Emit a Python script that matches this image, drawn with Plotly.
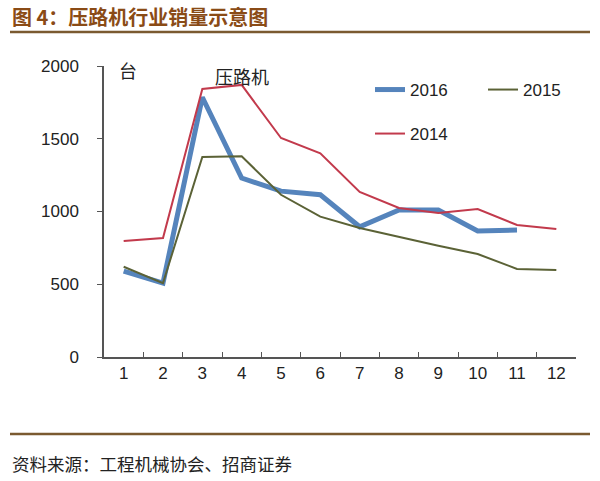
import plotly.graph_objects as go

months = ["1", "2", "3", "4", "5", "6", "7", "8", "9", "10", "11", "12"]
s2016 = [590, 508, 1785, 1230, 1140, 1115, 895, 1010, 1010, 866, 873]
s2015 = [620, 508, 1375, 1380, 1115, 965, 887, 825, 765, 708, 605, 598]
s2014 = [797, 818, 1842, 1870, 1505, 1400, 1134, 1024, 990, 1017, 907, 880]
yticks = [0, 500, 1000, 1500, 2000]

fig = go.Figure()
fig.add_trace(go.Scatter(x=months[:len(s2016)], y=s2016, mode="lines", name="2016",
                         line=dict(color="#5584BC", width=5), legend="legend"))
fig.add_trace(go.Scatter(x=months, y=s2015, mode="lines", name="2015",
                         line=dict(color="#5B6236", width=2), legend="legend2"))
fig.add_trace(go.Scatter(x=months, y=s2014, mode="lines", name="2014",
                         line=dict(color="#C23A4C", width=2), legend="legend3"))

axis_color = "#555555"
fig.update_xaxes(type="category", categoryorder="array", categoryarray=months,
                 range=[-0.5, 11.5], tickson="boundaries", ticks="inside", ticklen=5,
                 tickcolor=axis_color, showline=True, linecolor=axis_color, linewidth=1.5,
                 showgrid=False, zeroline=False,
                 tickfont=dict(family="Arial, Liberation Sans", size=17, color="#222222"))
fig.update_yaxes(range=[0, 2000], tickvals=yticks, ticks="outside", ticklen=5,
                 tickcolor=axis_color, showline=True, linecolor=axis_color, linewidth=1.5,
                 showgrid=False, zeroline=False, ticklabelstandoff=15,
                 tickfont=dict(family="Arial, Liberation Sans", size=17, color="#222222"))

leg_font = dict(family="Arial, Liberation Sans", size=17, color="#222222")
common = dict(bgcolor="rgba(0,0,0,0)", font=leg_font, xanchor="left", yanchor="middle",
              itemwidth=30, tracegroupgap=0)
fig.update_layout(
    width=600, height=481,
    margin=dict(l=104, r=24, t=66, b=124),
    paper_bgcolor="white", plot_bgcolor="white",
    showlegend=True,
    legend=dict(x=(370 - 104) / 472, y=(357 - 90) / 291, **common),
    legend2=dict(x=(483 - 104) / 472, y=(357 - 90) / 291, **common),
    legend3=dict(x=(370 - 104) / 472, y=(357 - 134) / 291, **common),
)

title_color = "#8A4B16"
rule_color = "#7A5A30"
fig.add_annotation(text="图 4：压路机行业销量示意图", xref="paper", yref="paper",
                   x=-94 / 472, y=(357 - 17) / 291, xanchor="left", yanchor="middle",
                   showarrow=False,
                   font=dict(family="Noto Sans CJK SC", size=20, color=title_color, weight="bold"))
fig.add_annotation(text="资料来源：工程机械协会、招商证券", xref="paper", yref="paper",
                   x=-94 / 472, y=(357 - 463) / 291, xanchor="left", yanchor="middle",
                   showarrow=False,
                   font=dict(family="Noto Sans CJK SC", size=17.5, color="#222222"))
fig.add_annotation(text="台", xref="paper", yref="paper",
                   x=(128 - 104) / 472, y=(357 - 70) / 291, xanchor="center", yanchor="middle",
                   showarrow=False, font=dict(family="Noto Sans CJK SC", size=18, color="#222222"))
fig.add_annotation(text="压路机", xref="paper", yref="paper",
                   x=(242 - 104) / 472, y=(357 - 76) / 291, xanchor="center", yanchor="middle",
                   showarrow=False, font=dict(family="Noto Sans CJK SC", size=18, color="#222222"))

fig.add_shape(type="line", xref="paper", yref="paper",
              x0=-94 / 472, x1=486 / 472, y0=(357 - 32) / 291, y1=(357 - 32) / 291,
              line=dict(color=rule_color, width=2.5))
fig.add_shape(type="line", xref="paper", yref="paper",
              x0=-94 / 472, x1=486 / 472, y0=(357 - 434) / 291, y1=(357 - 434) / 291,
              line=dict(color=rule_color, width=2.5))

fig.write_html("out.html")
